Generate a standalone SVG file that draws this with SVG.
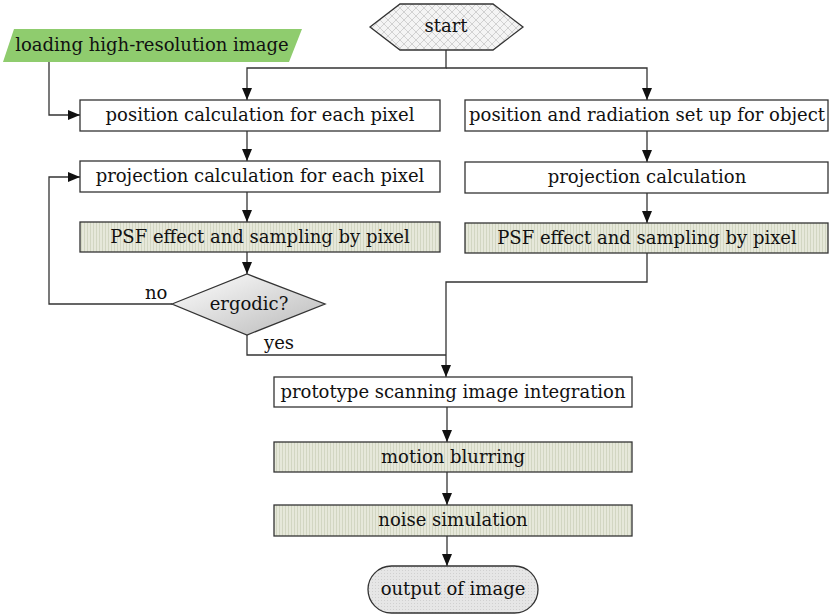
<svg xmlns="http://www.w3.org/2000/svg" width="830" height="616" viewBox="0 0 830 616">
<style>
.box{fill:#fff;stroke:#333;stroke-width:1.3}
.shade{fill:url(#stripes);stroke:#333;stroke-width:1.3}
.t{font-family:"DejaVu Serif","Liberation Serif",serif;font-size:18px;fill:#111;text-anchor:middle}
.lbl{font-family:"DejaVu Serif","Liberation Serif",serif;font-size:18px;fill:#111}
.c{fill:none;stroke:#333;stroke-width:1.3}
</style>
<defs>
<pattern id="stripes" width="3" height="10" patternUnits="userSpaceOnUse">
<rect width="3" height="10" fill="#e6e8da"/>
<rect width="1" height="10" fill="#d2d6c2"/>
</pattern>
<pattern id="cross" width="8" height="8" patternUnits="userSpaceOnUse">
<rect width="8" height="8" fill="#f4f4f4"/>
<path d="M0 0L8 8M8 0L0 8" stroke="#c8c8c8" stroke-width="0.8"/>
</pattern>
<pattern id="dots" width="3" height="3" patternUnits="userSpaceOnUse">
<rect width="3" height="3" fill="#e6e6e6"/>
<rect width="1" height="1" fill="#d0d0d0"/>
</pattern>
<linearGradient id="grad" x1="0" y1="0" x2="1" y2="1">
<stop offset="0" stop-color="#ffffff"/>
<stop offset="1" stop-color="#b8b8b8"/>
</linearGradient>
<marker id="arr" markerWidth="12" markerHeight="10" refX="12" refY="5" orient="auto" markerUnits="userSpaceOnUse">
<path d="M0 0L12 5L0 10Z" fill="#111"/>
</marker>
</defs>

<g id="connectors">
<path class="c" d="M446 50V68H247V100" marker-end="url(#arr)"/>
<path class="c" d="M446 68H647V100" marker-end="url(#arr)"/>
<path class="c" d="M49 62V115H80" marker-end="url(#arr)"/>
<path class="c" d="M247 131V161" marker-end="url(#arr)"/>
<path class="c" d="M247 192V222" marker-end="url(#arr)"/>
<path class="c" d="M247 252V274" marker-end="url(#arr)"/>
<path class="c" d="M172 304H49V177H80" marker-end="url(#arr)"/>
<path class="c" d="M647 131V162" marker-end="url(#arr)"/>
<path class="c" d="M647 193V223" marker-end="url(#arr)"/>
<path class="c" d="M247 335V355H446"/>
<path class="c" d="M647 253V282H446V377" marker-end="url(#arr)"/>
<path class="c" d="M447 407V442" marker-end="url(#arr)"/>
<path class="c" d="M447 472V505" marker-end="url(#arr)"/>
<path class="c" d="M447 536V566" marker-end="url(#arr)"/>
<text class="lbl" x="145" y="299">no</text>
<text class="lbl" x="264" y="349">yes</text>
</g>

<g id="start">
<polygon points="370,27 400,4 493,4 523,27 493,50 400,50" fill="url(#cross)" stroke="#333" stroke-width="1.3"/>
<text class="t" x="446" y="32">start</text>
</g>

<g id="loading">
<polygon points="14,29 302,29 289,62 3,62" fill="#8fcc6e"/>
<text class="t" x="152" y="51">loading high-resolution image</text>
</g>

<g id="poscalc">
<rect class="box" x="80" y="100" width="360" height="31"/>
<text class="t" x="260" y="121">position calculation for each pixel</text>
</g>

<g id="projcalc">
<rect class="box" x="80" y="161" width="360" height="31"/>
<text class="t" x="260" y="182">projection calculation for each pixel</text>
</g>

<g id="psf1">
<rect class="shade" x="80" y="222" width="360" height="30"/>
<text class="t" x="260" y="243">PSF effect and sampling by pixel</text>
</g>

<g id="ergodic">
<polygon points="172,304 247,274 325,304 247,335" fill="url(#grad)" stroke="#333" stroke-width="1.3"/>
<text class="t" x="249" y="310">ergodic?</text>
</g>

<g id="possetup">
<rect class="box" x="465" y="100" width="363" height="31"/>
<text class="t" x="647" y="121">position and radiation set up for object</text>
</g>

<g id="proj2">
<rect class="box" x="465" y="162" width="363" height="31"/>
<text class="t" x="647" y="183">projection calculation</text>
</g>

<g id="psf2">
<rect class="shade" x="465" y="223" width="363" height="30"/>
<text class="t" x="647" y="244">PSF effect and sampling by pixel</text>
</g>

<g id="prototype">
<rect class="box" x="274" y="377" width="358" height="30"/>
<text class="t" x="453" y="398">prototype scanning image integration</text>
</g>

<g id="motion">
<rect class="shade" x="274" y="442" width="358" height="30"/>
<text class="t" x="453" y="463">motion blurring</text>
</g>

<g id="noise">
<rect class="shade" x="274" y="505" width="358" height="31"/>
<text class="t" x="453" y="526">noise simulation</text>
</g>

<g id="output">
<rect x="368" y="566" width="170" height="47" rx="23.5" fill="url(#dots)" stroke="#333" stroke-width="1.3"/>
<text class="t" x="453" y="595">output of image</text>
</g>
</svg>
